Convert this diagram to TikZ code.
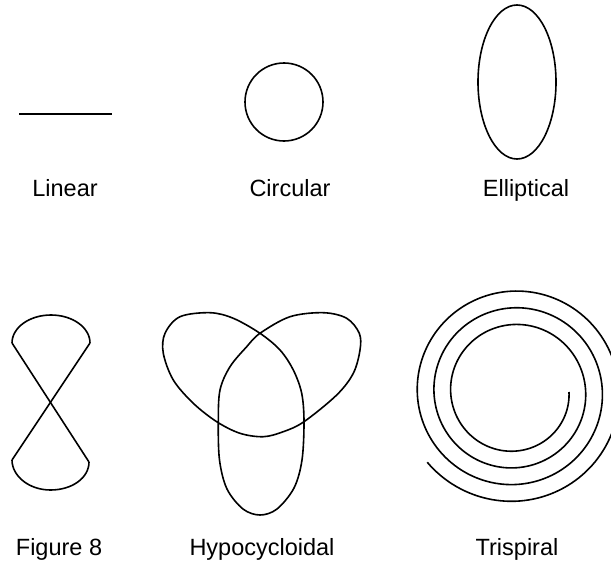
\documentclass[tikz,border=0pt]{standalone}
\usepackage{fontspec}
\setmainfont{Liberation Sans}
\begin{document}
\begin{tikzpicture}[x=1pt,y=-1pt,
  curve/.style={draw=black, line width=1.6pt, line join=round},
  lbl/.style={font=\fontsize{23.5}{28}\selectfont, inner sep=0pt, anchor=base}]
\useasboundingbox (0,0) rectangle (611,562);
\clip (0,0) rectangle (611,562);
\fill[white] (0,0) rectangle (611,562);

% Linear
\coordinate (linA) at (19,114);
\coordinate (linB) at (112,114);
\draw[curve] (linA) -- (linB);

% Circular
\coordinate (circC) at (284,102);
\draw[curve] (circC) circle[radius=39pt];

% Elliptical
\coordinate (ellC) at (517,82);
\draw[curve] (ellC) ellipse[x radius=39pt, y radius=77pt];

% Labels top
\node[lbl] (tLinear) at (65,196) {Linear};
\node[lbl] (tCircular) at (290,196) {Circular};
\node[lbl] (tElliptical) at (526,196) {Elliptical};

% Figure 8
\coordinate (f1) at (12,343);
\coordinate (f2) at (90,343);
\coordinate (f3) at (12,460);
\coordinate (f4) at (89,462);
\draw[curve] (f1) .. controls (12,327.5) and (29.5,315) .. (51,315)
  .. controls (72.5,315) and (90,327.5) .. (f2);
\draw[curve] (f1) -- (f4);
\draw[curve] (f2) -- (f3);
\draw[curve] (f3) .. controls (12,476) and (29,490) .. (50.5,490)
  .. controls (72,490) and (89,478) .. (f4);

% Hypocycloidal
\draw[curve] plot[smooth cycle, tension=0.55] coordinates {
 (218.3,421.7) (220,390) (230,366.7) (246.7,346.7) (260,333.3)
 (290,316.7) (323.3,312.7) (346.7,318.3) (359.3,333.3) (360,350)
 (353.3,373.3) (336.7,395) (304,421.7) (283.3,431.7) (263.3,436.7)
 (240,433.3) (216.7,421.7) (193.3,403.3) (173.3,380) (163.3,353.3)
 (165,333.3) (180,316.7) (210,312.7) (233.3,318.3) (260,333.3)
 (280,350) (293.3,370) (301.7,393.3) (304,421.7) (302,460)
 (294,488) (277,509) (260,515) (243,509) (227,489)
 (219.5,460)};

% Trispiral
\draw[curve] plot[domain=0:1221, samples=500, variable=\t]
  ({514+(55+16.7*(\t/360))*cos(\t)}, {392+(55+16.7*(\t/360))*sin(\t)});

% Labels bottom
\node[lbl] (tFig) at (59,555) {Figure 8};
\node[lbl] (tHypo) at (262,555) {Hypocycloidal};
\node[lbl] (tTri) at (517,555) {Trispiral};
\end{tikzpicture}
\end{document}
